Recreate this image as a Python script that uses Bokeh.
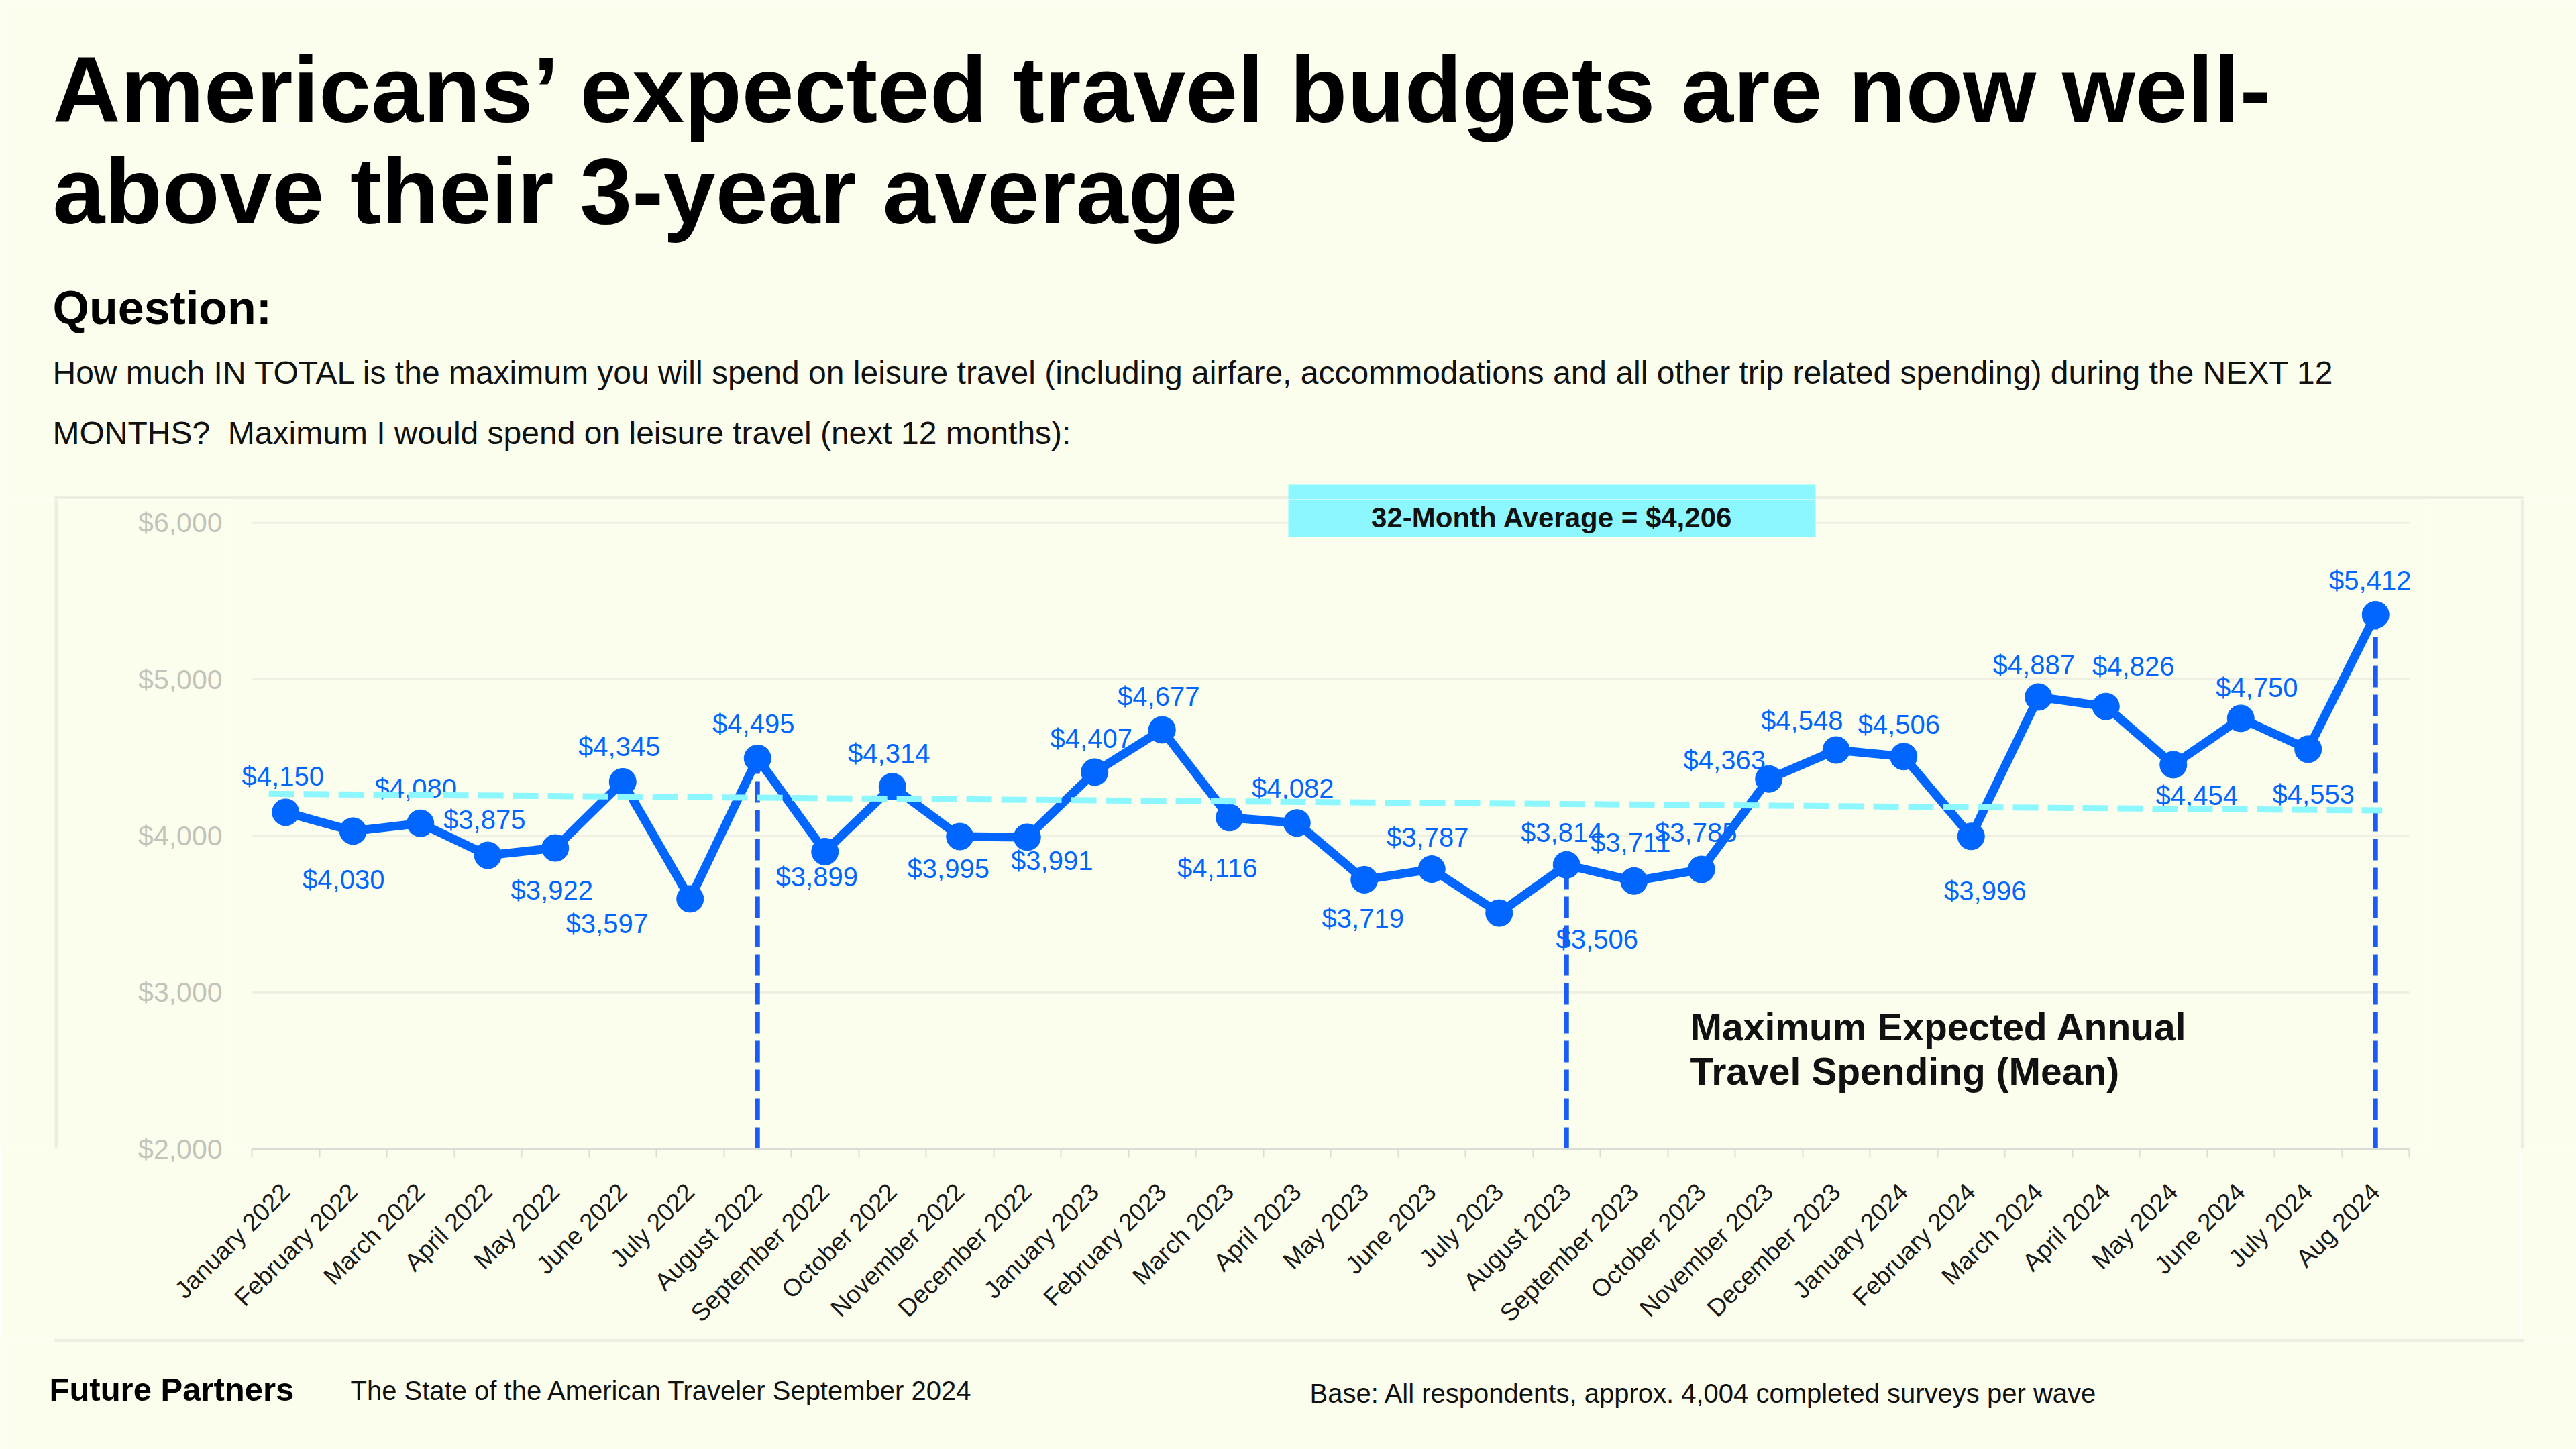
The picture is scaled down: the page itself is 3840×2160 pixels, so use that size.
import math
from bokeh.plotting import figure
from bokeh.layouts import column, row
from bokeh.models import (ColumnDataSource, Range1d, FixedTicker, NumeralTickFormatter, LabelSet)
from bokeh.core.properties import value
from bokeh.embed import file_html
from bokeh.resources import INLINE

# ---------------- data ----------------
months = ["January 2022", "February 2022", "March 2022", "April 2022", "May 2022", "June 2022",
          "July 2022", "August 2022", "September 2022", "October 2022", "November 2022",
          "December 2022", "January 2023", "February 2023", "March 2023", "April 2023",
          "May 2023", "June 2023", "July 2023", "August 2023", "September 2023",
          "October 2023", "November 2023", "December 2023", "January 2024", "February 2024",
          "March 2024", "April 2024", "May 2024", "June 2024", "July 2024", "Aug 2024"]
spend = [4150, 4030, 4080, 3875, 3922, 4345, 3597, 4495, 3899, 4314, 3995, 3991,
         4407, 4677, 4116, 4082, 3719, 3787, 3506, 3814, 3711, 3785, 4363, 4548,
         4506, 3996, 4887, 4826, 4454, 4750, 4553, 5412]
y_ticks = [2000, 3000, 4000, 5000, 6000]
average_value = 4206
avg_line_x = [-0.25, 31.1]
avg_line_y = [4268, 4162]
marker_months = ["August 2022", "August 2023", "Aug 2024"]

title_lines = ["Americans\u2019 expected travel budgets are now well-",
               "above their 3-year average"]
question_head = "Question:"
question_lines = ["How much IN TOTAL is the maximum you will spend on leisure travel (including "
                  "airfare, accommodations and all other trip related spending) during the NEXT 12",
                  "MONTHS?\u00a0\u00a0Maximum I would spend on leisure travel (next 12 months):"]
series_note = ["Maximum Expected Annual", "Travel Spending (Mean)"]
footer_brand = "Future Partners"
footer_report = "The State of the American Traveler September 2024"
footer_base = "Base: All respondents, approx. 4,004 completed surveys per wave"

# label placement (screen px offsets, dx, dy-up) -- layout only
label_dx = [-4, -14, -7, -5, -5, -5, -124, -6, -12, -5, -17, 37, -5, -5, -18, -6,
            -2, -6, 146, -7, -5, -8, -66, -51, -7, 21, -7, 41, 35, 24, 8, -8]
label_dy = [54, -72, 52, 53, -63, 52, -37, 51, -38, 50, -48, -35, 50, 50, -75, 52,
            -58, 48, -39, 48, 57, 55, 28, 44, 48, -81, 48, 60, -46, 46, -67, 51]

# ---------------- style ----------------
BG = "#FBFEEC"
BLUE = "#0066FF"
VBLUE = "#1A5CF5"
CYAN = "#8DF7FF"
EDGE = "#ECEEDF"
FONT = "Liberation Sans"

W, H = 3840, 2160
TOP_H = 744          # page y where the chart row starts
MID_H = 1251         # chart row height (ends at 1995)
BOT_H = H - TOP_H - MID_H
LEFT_W, RIGHT_W = 86, 83
CHART_W = W - LEFT_W - RIGHT_W
PANEL = dict(left=81, right=3762, top=739, bottom=2000, t=5)
BOX = dict(left=1920, right=2706, top=722, bottom=801)


def page_fig(width, height, x0, y0):
    f = figure(width=width, height=height, output_backend="svg", toolbar_location=None,
               x_range=Range1d(x0, x0 + width), y_range=Range1d(y0 + height, y0),
               x_axis_location=None, y_axis_location=None, min_border=0,
               background_fill_color=BG, border_fill_color=BG, outline_line_color=None)
    f.xgrid.visible = False
    f.ygrid.visible = False
    return f


def ptext(f, x, y, text, size, bold=False, color="#111111", align="left", baseline="alphabetic"):
    f.text(x=[x], y=[y], text=[text], text_font=value(FONT), text_font_size=size,
           text_font_style="bold" if bold else "normal", text_color=color,
           text_align=align, text_baseline=baseline)


# ---------------- top: title & question ----------------
top = page_fig(W, TOP_H, 0, 0)
ptext(top, 78, 133, title_lines[0], "140px", True, "#000000")
ptext(top, 78, 284, title_lines[1], "140px", True, "#000000")
ptext(top, 78, 458, question_head, "70px", True, "#000000")
ptext(top, 78, 555, question_lines[0], "48px")
ptext(top, 78, 645, question_lines[1], "48px")
top.quad(left=[PANEL["left"]], right=[PANEL["right"]], top=[PANEL["top"]],
         bottom=[PANEL["top"] + PANEL["t"]], fill_color=EDGE, line_color=None)
top.quad(left=[BOX["left"]], right=[BOX["right"]], top=[BOX["top"]], bottom=[TOP_H],
         fill_color=CYAN, line_color=None)

# ---------------- side strips of the panel ----------------
left = page_fig(LEFT_W, MID_H, 0, TOP_H)
left.quad(left=[PANEL["left"]], right=[PANEL["left"] + PANEL["t"]], top=[TOP_H],
          bottom=[TOP_H + MID_H], fill_color=EDGE, line_color=None)
right = page_fig(RIGHT_W, MID_H, LEFT_W + CHART_W, TOP_H)
right.quad(left=[PANEL["right"] - PANEL["t"]], right=[PANEL["right"]], top=[TOP_H],
           bottom=[TOP_H + MID_H], fill_color=EDGE, line_color=None)

# ---------------- chart ----------------
STEP = 100.5          # px per month
PAD = 30              # px of frame beyond the outer category edges
PX_PER_UNIT = 0.235   # px per dollar
FRAME_L = 375 - PAD
FRAME_R = 375 + STEP * len(months) + PAD
FRAME_B = 1719
x_lo = -0.5 - PAD / STEP
x_hi = len(months) - 0.5 + PAD / STEP
y_hi = y_ticks[-1] + (779 - TOP_H) / PX_PER_UNIT

p = figure(width=CHART_W, height=MID_H, output_backend="svg", toolbar_location=None,
           x_range=Range1d(x_lo, x_hi), y_range=Range1d(y_ticks[0], y_hi),
           min_border_left=int(round(FRAME_L - LEFT_W)),
           min_border_right=int(round(LEFT_W + CHART_W - FRAME_R)),
           min_border_top=0, min_border_bottom=TOP_H + MID_H - FRAME_B,
           background_fill_color=BG, border_fill_color=BG, outline_line_color=None)


def xd(px):
    return -0.5 + (px - 375) / STEP


def yd(py):
    return y_ticks[-1] - (py - 779) / PX_PER_UNIT


xs = list(range(len(months)))
src = ColumnDataSource(dict(
    x=xs, y=spend, label=[f"${v:,}" for v in spend], dx=label_dx, dy=label_dy))

xa = p.xaxis[0]
xa.ticker = FixedTicker(ticks=xs, minor_ticks=[i - 0.5 for i in range(len(months) + 1)])
xa.bounds = (-0.5, len(months) - 0.5)
xa.major_label_overrides = {i: m for i, m in enumerate(months)}
xa.major_label_orientation = math.pi / 4
xa.major_tick_line_color = None
xa.major_tick_in = 0
xa.major_tick_out = 0
xa.minor_tick_in = 0
xa.minor_tick_out = 13
xa.minor_tick_line_color = "#DCDCD6"
xa.minor_tick_line_width = 2
xa.axis_line_color = "#DCDCD6"
xa.axis_line_width = 3
xa.major_label_text_font = FONT
xa.major_label_text_font_size = "37px"
xa.major_label_text_color = "#1a1a1a"
xa.major_label_standoff = 45

ya = p.yaxis[0]
ya.ticker = FixedTicker(ticks=y_ticks)
ya.formatter = NumeralTickFormatter(format="$0,0")
ya.axis_line_color = None
ya.major_tick_line_color = None
ya.minor_tick_line_color = None
ya.major_label_text_font = FONT
ya.major_label_text_font_size = "41px"
ya.major_label_text_color = "#C2C3BB"
ya.major_label_standoff = 8

p.xgrid.grid_line_color = None
p.ygrid.grid_line_color = None
# horizontal gridlines spanning the category extent only
p.segment(x0=[-0.5] * (len(y_ticks) - 1), y0=y_ticks[1:], x1=[len(months) - 0.5] * (len(y_ticks) - 1),
          y1=y_ticks[1:], line_color="#EDEFE3", line_width=3)

# vertical dashed markers
mi = [months.index(m) for m in marker_months]
p.segment(x0=mi, y0=[y_ticks[0]] * len(mi), x1=mi, y1=[spend[i] for i in mi],
          line_color=VBLUE, line_width=7, line_dash="32 11")

# main series
p.line("x", "y", source=src, line_color=BLUE, line_width=13, line_join="round")
p.scatter("x", "y", source=src, size=40, fill_color=BLUE, line_color=BLUE)

p.add_layout(LabelSet(x="x", y="y", text="label", source=src, x_offset="dx", y_offset="dy",
                      text_font=value(FONT), text_font_size="40px", text_color=BLUE,
                      text_align="center", text_baseline="middle"))

# average trend line (drawn over labels)
p.line(avg_line_x, avg_line_y, line_color=CYAN, line_width=9, line_dash="38 14",
       level="overlay")

# average box (lower part; upper part lives in the top figure)
p.quad(left=[xd(BOX["left"])], right=[xd(BOX["right"])], top=[yd(TOP_H)],
       bottom=[yd(BOX["bottom"])], fill_color=CYAN, line_color=None, level="overlay")
p.text(x=[xd((BOX["left"] + BOX["right"]) / 2)], y=[yd(771)],
       text=[f"32-Month Average = ${average_value:,}"], text_font=value(FONT),
       text_font_size="42px", text_font_style="bold", text_color="#111111",
       text_align="center", text_baseline="middle", level="overlay")

# series note
for k, line in enumerate(series_note):
    p.text(x=[xd(2519)], y=[yd(1536 + 67 * k)], text=[line], text_font=value(FONT),
           text_font_size="57px", text_font_style="bold", text_color="#111111",
           text_align="left", text_baseline="alphabetic")

# ---------------- bottom: panel edge & footer ----------------
bot = page_fig(W, BOT_H, 0, TOP_H + MID_H)
bot.quad(left=[PANEL["left"]], right=[PANEL["right"]], top=[TOP_H + MID_H],
         bottom=[PANEL["bottom"]], fill_color=EDGE, line_color=None)
ptext(bot, 73, 2070, footer_brand, "49px", True, "#000000")
ptext(bot, 522, 2072, footer_report, "40px")
ptext(bot, 1952, 2076, footer_base, "40px")

layout = column(top, row(left, p, right), bot)
open("out.html", "w").write(file_html(layout, INLINE))
